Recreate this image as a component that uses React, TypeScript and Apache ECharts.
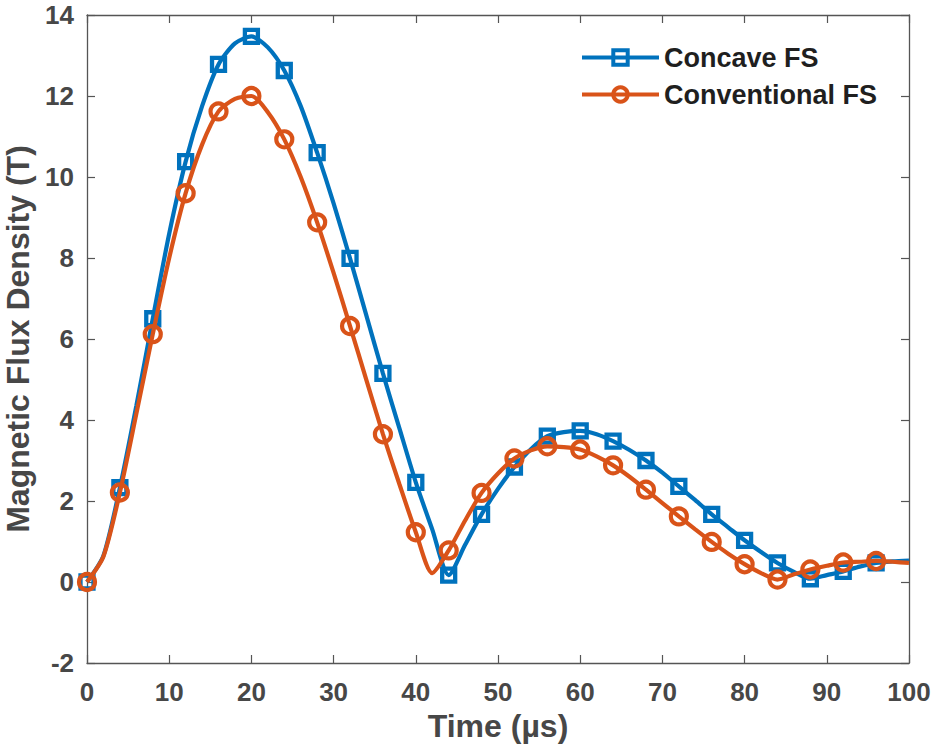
import React, { useEffect, useRef } from "react";
import * as echarts from "echarts";

// Time samples of the curves (µs)
const times = [
  0, 2, 4, 6, 8, 10, 12, 14, 16, 18, 20, 22, 24, 26, 28, 30, 32, 34, 36, 38, 40,
  42, 44, 46, 48, 50, 52, 54, 56, 58, 60, 62, 64, 66, 68, 70, 72, 74, 76, 78, 80,
  82, 84, 86, 88, 90, 92, 94, 96, 98, 100,
];

// Concave FS (T)
const concaveFS = [
  0, 0.65, 2.33, 4.35, 6.5, 8.6, 10.38, 11.75, 12.78, 13.3, 13.47, 13.2, 12.63,
  11.75, 10.6, 9.35, 7.99, 6.57, 5.15, 3.8, 2.46, 1.3, 0.17, 0.92, 1.67, 2.3,
  2.84, 3.28, 3.6, 3.7, 3.73, 3.65, 3.48, 3.26, 3.0, 2.7, 2.36, 2.02, 1.67, 1.35,
  1.03, 0.74, 0.47, 0.25, 0.08, 0.17, 0.26, 0.38, 0.47, 0.51, 0.53,
];

// Conventional FS (T)
const conventionalFS = [
  0, 0.63, 2.21, 4.15, 6.12, 8.0, 9.6, 10.8, 11.62, 11.93, 12.0, 11.6, 10.93,
  10.0, 8.88, 7.63, 6.32, 4.98, 3.65, 2.42, 1.23, 0.22, 0.78, 1.52, 2.2, 2.68,
  3.05, 3.25, 3.35, 3.33, 3.27, 3.1, 2.88, 2.6, 2.28, 1.95, 1.62, 1.3, 0.99, 0.7,
  0.44, 0.22, 0.06, 0.19, 0.31, 0.4, 0.48, 0.5, 0.52, 0.5, 0.47,
];

// Times at which markers are drawn
const markerTimes = [
  0, 4, 8, 12, 16, 20, 24, 28, 32, 36, 40, 44, 48, 52, 56, 60, 64, 68, 72, 76,
  80, 84, 88, 92, 96,
];

const seriesNames = ["Concave FS", "Conventional FS"];
const xTicks = { min: 0, max: 100, interval: 10 };
const yTicks = { min: -2, max: 14, interval: 2 };

const BLUE = "#0072BD";
const ORANGE = "#D95319";
const AXIS = "#555555";
const LABEL = "#474747";
const FONT = "'Liberation Sans', Arial, sans-serif";

function buildData(values: number[]) {
  return times.map((t, i) =>
    markerTimes.includes(t)
      ? { value: [t, values[i]] }
      : { value: [t, values[i]], symbol: "none" }
  );
}

export default function App() {
  const ref = useRef<HTMLDivElement>(null);

  useEffect(() => {
    if (!ref.current) return;
    const chart = echarts.init(ref.current, undefined, { renderer: "svg" });

    const axisLine = {
      show: true,
      onZero: false,
      lineStyle: { color: AXIS, width: 1.3 },
    };
    const axisTick = {
      show: true,
      inside: true,
      length: 8,
      lineStyle: { color: AXIS, width: 1.2 },
    };

    chart.setOption({
      animation: false,
      backgroundColor: "#ffffff",
      grid: {
        left: 87,
        right: 26,
        top: 15,
        bottom: 81,
        containLabel: false,
        outerBoundsMode: "none",
      },
      legend: {
        orient: "vertical",
        left: 580,
        top: 44,
        padding: 0,
        itemGap: 10,
        itemWidth: 77,
        itemHeight: 18,
        data: seriesNames,
        lineStyle: { width: 4 },
        itemStyle: { borderWidth: 4 },
        textStyle: {
          fontFamily: FONT,
          fontWeight: "bold",
          fontSize: 27,
          color: "#1f1f1f",
        },
      },
      xAxis: [
        {
          type: "value",
          ...xTicks,
          name: "Time (µs)",
          nameLocation: "middle",
          nameGap: 37,
          nameTextStyle: {
            fontFamily: FONT,
            fontWeight: "bold",
            fontSize: 32,
            color: LABEL,
          },
          axisLine,
          axisTick,
          splitLine: { show: false },
          axisLabel: {
            margin: 16,
            fontFamily: FONT,
            fontWeight: "bold",
            fontSize: 26,
            color: LABEL,
          },
        },
        {
          type: "value",
          position: "top",
          ...xTicks,
          axisLine,
          axisTick,
          splitLine: { show: false },
          axisLabel: { show: false },
        },
      ],
      yAxis: [
        {
          type: "value",
          ...yTicks,
          name: "Magnetic Flux Density (T)",
          nameLocation: "middle",
          nameRotate: 90,
          nameGap: 50,
          nameTextStyle: {
            fontFamily: FONT,
            fontWeight: "bold",
            fontSize: 32,
            color: LABEL,
          },
          axisLine,
          axisTick,
          splitLine: { show: false },
          axisLabel: {
            margin: 13,
            fontFamily: FONT,
            fontWeight: "bold",
            fontSize: 26,
            color: LABEL,
          },
        },
        {
          type: "value",
          position: "right",
          ...yTicks,
          axisLine,
          axisTick,
          splitLine: { show: false },
          axisLabel: { show: false },
        },
      ],
      series: [
        {
          name: seriesNames[0],
          type: "line",
          data: buildData(concaveFS),
          smooth: 0.25,
          symbol: "rect",
          symbolSize: 13,
          showAllSymbol: true,
          lineStyle: { color: BLUE, width: 4.2 },
          itemStyle: { color: "rgba(0,0,0,0)", borderColor: BLUE, borderWidth: 4.3 },
          emphasis: { disabled: true },
          z: 2,
        },
        {
          name: seriesNames[1],
          type: "line",
          data: buildData(conventionalFS),
          smooth: 0.25,
          symbol: "circle",
          symbolSize: 16,
          showAllSymbol: true,
          lineStyle: { color: ORANGE, width: 4.2 },
          itemStyle: { color: "rgba(0,0,0,0)", borderColor: ORANGE, borderWidth: 4.2 },
          emphasis: { disabled: true },
          z: 3,
        },
      ],
    });

    return () => chart.dispose();
  }, []);

  return (
    <div
      ref={ref}
      style={{
        position: "fixed",
        left: 0,
        top: 0,
        width: 935,
        height: 744,
        background: "#fff",
      }}
    />
  );
}
